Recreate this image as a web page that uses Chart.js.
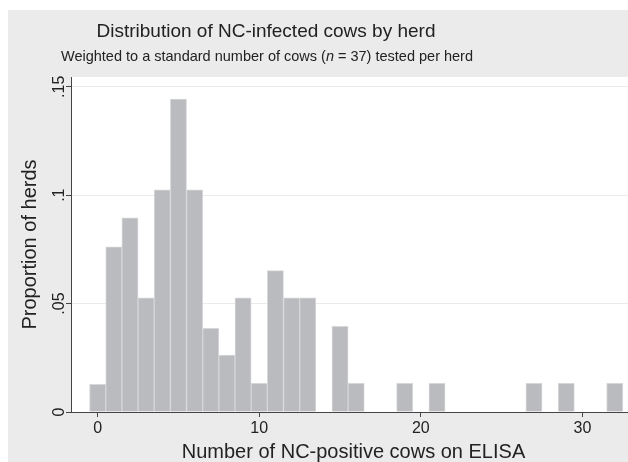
<!DOCTYPE html>
<html>
<head>
<meta charset="utf-8">
<script src="https://cdn.jsdelivr.net/npm/chart.js@4/dist/chart.umd.min.js"></script>
<style>
  html,body{margin:0;padding:0;background:#fff;}
  #wrap{width:628px;height:462px;position:relative;}
</style>
</head>
<body>
<div id="wrap"><canvas id="histChart" width="628" height="462"></canvas></div>
<script>
// bin centres (number of NC-positive cows) and weighted proportion of herds
const bins = [0,1,2,3,4,5,6,7,8,9,10,11,12,13,14,15,16,17,18,19,20,21,22,23,24,25,26,27,28,29,30,31,32];
const proportions = [0.0128,0.0762,0.0895,0.0526,0.1025,0.1443,0.1025,0.0386,0.0262,0.0526,0.0132,0.0652,0.0526,0.0526,0,0.0395,0.0132,0,0,0.0132,0,0.0132,0,0,0,0,0,0.0132,0,0.0132,0,0,0.0132];
const xTicks = [0,10,20,30];
const yTicks = [0,0.05,0.1,0.15];
const yTickLabels = ["0",".05",".1",".15"];

const titleText = "Distribution of NC-infected cows by herd";
const xTitle = "Number of NC-positive cows on ELISA";
const yTitle = "Proportion of herds";

const FONT = "'Liberation Sans', Arial, Helvetica, sans-serif";
const TEXT = "#222";

const stataLook = {
  id:"stataLook",
  beforeDraw(chart){
    const {ctx, chartArea:a} = chart;
    ctx.save();
    ctx.fillStyle="#ebebeb"; ctx.fillRect(8,10,620,452);
    ctx.fillStyle="#fff"; ctx.fillRect(a.left,a.top,a.right-a.left,a.bottom-a.top);
    ctx.restore();
  },
  afterDraw(chart){
    const {ctx, chartArea:a} = chart; const ys=chart.scales.y;
    ctx.save(); ctx.fillStyle=TEXT;
    // titles
    ctx.textAlign="center"; ctx.textBaseline="alphabetic";
    ctx.font=`19px ${FONT}`; ctx.fillText(titleText,266,36.5);
    // subtitle with italic n
    const parts=[["Weighted to a standard number of cows (",""],["n","italic "],[" = 37) tested per herd",""]];
    let total=0; parts.forEach(p=>{ ctx.font=`${p[1]}14.5px ${FONT}`; total+=ctx.measureText(p[0]).width; });
    let x=267-total/2; ctx.textAlign="left";
    parts.forEach(p=>{ ctx.font=`${p[1]}14.5px ${FONT}`; ctx.fillText(p[0],x,61); x+=ctx.measureText(p[0]).width; });
    // rotated y tick labels
    ctx.font=`16px ${FONT}`; ctx.textAlign="center";
    yTicks.forEach((v,i)=>{
      const py=ys.getPixelForValue(v);
      ctx.save(); ctx.translate(63.5,py); ctx.rotate(-Math.PI/2); ctx.fillText(yTickLabels[i],0,0); ctx.restore();
    });
    // y title
    ctx.font=`20px ${FONT}`;
    ctx.save(); ctx.translate(36,(a.top+a.bottom)/2); ctx.rotate(-Math.PI/2); ctx.fillText(yTitle,0,0); ctx.restore();
    // x title
    ctx.fillText(xTitle,(a.left+a.right)/2+4,457.5);
    ctx.restore();
  }
};

new Chart(document.getElementById("histChart"),{
  type:"bar",
  data:{datasets:[{
    data:bins.map((b,i)=>({x:b,y:proportions[i]})),
    backgroundColor:"#babbbe", borderColor:"#d6d7d9", borderWidth:1,
    barPercentage:1, categoryPercentage:1
  }]},
  options:{
    responsive:false, animation:false, devicePixelRatio:1,
    layout:{padding:{top:77,left:0,right:0,bottom:0}},
    plugins:{legend:{display:false}, tooltip:{enabled:false}},
    scales:{
      x:{type:"linear", offset:false, min:-1.65, max:32.82,
        afterBuildTicks:s=>{ s.ticks=xTicks.map(v=>({value:v})); },
        afterFit:s=>{ s.height=50; },
        grid:{drawOnChartArea:false, offset:false, tickLength:5, tickColor:"#444"},
        border:{color:"#444", width:1},
        ticks:{color:TEXT, font:{family:FONT,size:16}, padding:2, maxRotation:0, callback:v=>String(v)}
      },
      y:{min:0, max:0.1545,
        afterBuildTicks:s=>{ s.ticks=yTicks.map(v=>({value:v})); },
        afterFit:s=>{ s.width=71; },
        grid:{color:c=>c.tick && c.tick.value===0?"rgba(0,0,0,0)":"#ebebeb", tickLength:5, tickColor:"#444"},
        border:{color:"#444", width:1},
        ticks:{display:false}
      }
    }
  },
  plugins:[stataLook]
});
</script>
</body>
</html>
